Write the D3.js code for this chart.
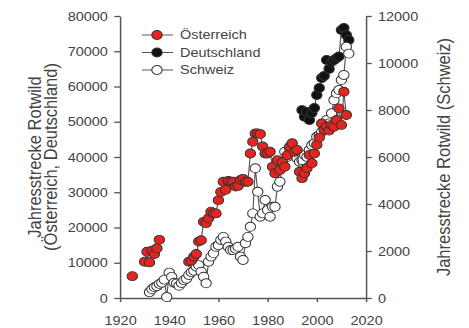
<!DOCTYPE html>
<html>
<head>
<meta charset="utf-8">
<script src="https://cdn.jsdelivr.net/npm/d3@7"></script>
<style>
  body { margin: 0; background: #fff; }
  text { font-family: "Liberation Sans", Arial, sans-serif; fill: #444; }
</style>
</head>
<body>
<div id="chart"></div>
<script>
// Jahresstrecke Rotwild
var atYears = [1925, 1930, 1931, 1932, 1933, 1934, 1935, 1936,
  1948, 1949, 1950, 1951, 1952, 1953, 1954, 1955, 1956, 1957, 1958, 1959,
  1960, 1961, 1962, 1963, 1964, 1965, 1966, 1967, 1968, 1969,
  1970, 1971, 1972, 1973, 1974, 1975, 1976, 1977, 1978, 1979,
  1980, 1981, 1982, 1983, 1984, 1985, 1986, 1987, 1988, 1989,
  1990, 1991, 1992, 1993, 1994, 1995, 1996, 1997, 1998, 1999,
  2000, 2001, 2002, 2003, 2004, 2005, 2006, 2007, 2008, 2009,
  2010, 2011, 2012];
var atValues = [6200, 10300, 13100, 10100, 13400, 12500, 14100, 16500,
  10300, 10600, 11700, 12500, 16000, 16400, 21600, 21200, 22600, 24500, 24000, 24000,
  27700, 30100, 33000, 30700, 33200, 33000, 33000, 31600, 31800, 33500,
  33800, 33000, 33000, 41000, 44300, 46700, 46700, 46500, 43000, 41000,
  41000, 41500, 37200, 35400, 39100, 36300, 38500, 37200, 40500, 42900,
  43900, 41500, 42000, 35800, 34000, 35400, 36800, 40600, 38200, 41000,
  43500, 45500, 49500, 47700, 48600, 47500, 49100, 48600, 50500, 53800,
  49100, 58500, 51900];

var deYears = [1994, 1995, 1996, 1997, 1998, 1999, 2000, 2001, 2002, 2003,
  2004, 2005, 2006, 2007, 2008, 2009, 2010, 2011, 2012, 2013];
var deValues = [53300, 51400, 52800, 50500, 52500, 53900, 57600, 59600, 62400, 63000,
  67500, 65000, 67000, 67500, 68000, 68500, 76000, 76600, 74600, 73200];

var chYears = d3.range(1932, 2014);
var chValues = [250, 370, 455, 500, 600, 650, 780, 40,
  1080, 900, 650, 620, 520, 640, 760, 820, 980, 1100,
  1160, 1330, 1400, 1120, 906, 625, 1545, 1760, 1900, 2180,
  2250, 2470, 2600, 2400, 2180, 2040, 2040, 2100, 2180, 1760,
  1620, 2330, 2600, 3030, 3600, 5520, 4520, 3460, 3600, 4170,
  3740, 3460, 3880, 3880, 4735, 4950, 5590, 6225, 6000, 6370,
  6200, 6225, 5945, 5800, 5870, 6085, 6000, 6300, 6500, 6580,
  6860, 6935, 7075, 7220, 7575, 7430, 7860, 8425, 8710, 8850,
  9275, 9490, 10690, 10400];

var xTicks = [1920, 1940, 1960, 1980, 2000, 2020];
var leftTicks = [0, 10000, 20000, 30000, 40000, 50000, 60000, 70000, 80000];
var rightTicks = [0, 2000, 4000, 6000, 8000, 10000, 12000];
var legendNames = ["Österreich", "Deutschland", "Schweiz"];
var leftTitle = ["Jahresstrecke Rotwild", "(Österreich, Deutschland)"];
var rightTitle = "Jahresstrecke Rotwild (Schweiz)";

var svgWidth = 469, svgHeight = 328;
var sx = 1.15; // the figure is stretched horizontally

var svg = d3.select("#chart").append("svg")
  .attr("width", svgWidth)
  .attr("height", svgHeight);

var g = svg.append("g").attr("transform", "scale(" + sx + ",1)");

var x = d3.scaleLinear().domain([1920, 2020]).range([120 / sx, 366 / sx]);
var yL = d3.scaleLinear().domain([0, 80000]).range([298, 16]);
var yR = d3.scaleLinear().domain([0, 12000]).range([298, 16]);

function styleAxis(sel) {
  sel.selectAll("path, line").attr("stroke", "#555").attr("stroke-width", 1.3);
  sel.selectAll("text").style("font-size", "12.6px").attr("fill", "#444");
}

g.append("g")
  .attr("transform", "translate(0,298)")
  .call(d3.axisBottom(x).tickValues(xTicks).tickFormat(d3.format("d"))
    .tickSize(4).tickSizeOuter(0).tickPadding(14))
  .call(styleAxis);

g.append("g")
  .attr("transform", "translate(" + x(1920) + ",0)")
  .call(d3.axisLeft(yL).tickValues(leftTicks).tickFormat(d3.format("d"))
    .tickSize(5).tickSizeOuter(0).tickPadding(5.5))
  .call(styleAxis);

g.append("g")
  .attr("transform", "translate(" + x(2020) + ",0)")
  .call(d3.axisRight(yR).tickValues(rightTicks).tickFormat(d3.format("d"))
    .tickSize(5).tickSizeOuter(0).tickPadding(5.4))
  .call(styleAxis);

// axis titles
var lt = g.append("text")
  .attr("transform", "translate(" + (41 / sx) + ",157) rotate(-90)")
  .attr("text-anchor", "middle")
  .style("font-size", "16.5px");
lt.selectAll("tspan").data(leftTitle).enter().append("tspan")
  .attr("x", 0)
  .attr("dy", function(d, i) { return i === 0 ? 0 : 13.8; })
  .text(function(d) { return d; });

g.append("text")
  .attr("transform", "translate(" + (450 / sx) + ",157) rotate(-90)")
  .attr("text-anchor", "middle")
  .style("font-size", "16.5px")
  .text(rightTitle);

// series
function points(years, values) {
  return years.map(function(yr, i) { return { year: yr, value: values[i] }; });
}
function segments(pts) {
  var segs = [], cur = [];
  pts.forEach(function(p, i) {
    if (i > 0 && p.year - pts[i - 1].year > 1) { segs.push(cur); cur = []; }
    cur.push(p);
  });
  segs.push(cur);
  return segs;
}

var series = [
  { name: "Deutschland", data: points(deYears, deValues), y: yL, fill: "#111" },
  { name: "Schweiz", data: points(chYears, chValues), y: yR, fill: "#fff" },
  { name: "Österreich", data: points(atYears, atValues), y: yL, fill: "#e52420" }
];

var r = 4.5;

series.forEach(function(s) {
  var line = d3.line()
    .x(function(d) { return x(d.year); })
    .y(function(d) { return s.y(d.value); });
  var sg = g.append("g");
  sg.selectAll("path").data(segments(s.data)).enter().append("path")
    .attr("d", line)
    .attr("fill", "none")
    .attr("stroke", "#555")
    .attr("stroke-width", 1);
  sg.selectAll("circle").data(s.data).enter().append("circle")
    .attr("cx", function(d) { return x(d.year); })
    .attr("cy", function(d) { return s.y(d.value); })
    .attr("r", r)
    .attr("fill", s.fill)
    .attr("stroke", "#333")
    .attr("stroke-width", 0.9);
});

// legend
var legendFill = { "Österreich": "#e52420", "Deutschland": "#111", "Schweiz": "#fff" };
var leg = g.selectAll(".leg").data(legendNames).enter().append("g")
  .attr("class", "leg")
  .attr("transform", function(d, i) { return "translate(0," + (35 + i * 17.5) + ")"; });
leg.append("line")
  .attr("x1", 142 / sx).attr("x2", 173 / sx)
  .attr("stroke", "#555").attr("stroke-width", 1);
leg.append("circle")
  .attr("cx", 157 / sx).attr("r", r)
  .attr("fill", function(d) { return legendFill[d]; })
  .attr("stroke", "#333").attr("stroke-width", 0.9);
leg.append("text")
  .attr("x", 180 / sx)
  .attr("dy", "0.35em")
  .style("font-size", "12.6px")
  .text(function(d) { return d; });
</script>
</body>
</html>
